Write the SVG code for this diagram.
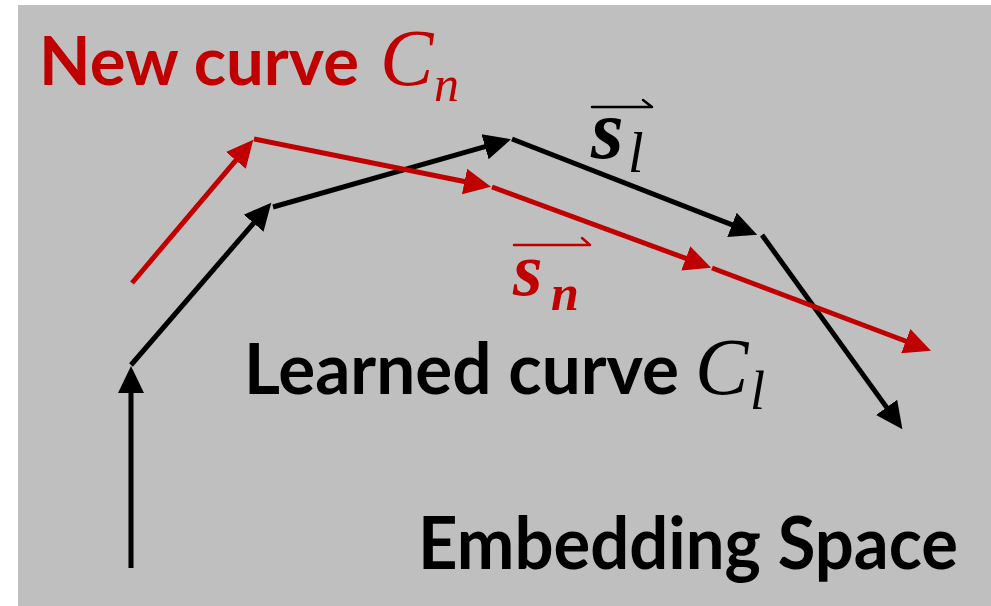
<svg xmlns="http://www.w3.org/2000/svg" width="991" height="606" viewBox="0 0 991 606">
  <style>
    .lbl { font-family: Lato, "Liberation Sans", sans-serif; font-weight: bold; }
    .math { font-family: "Liberation Serif", "DejaVu Serif", serif; font-style: italic; }
    .bm { font-family: "Liberation Serif", "DejaVu Serif", serif; font-style: italic; font-weight: bold; }
    .red { fill: #C00000; }
    .blk { fill: #000000; }
    .lk { stroke: #000000; stroke-width: 5; fill: none; marker-end: url(#ahB); }
    .ln { stroke: #C00000; stroke-width: 5; fill: none; marker-end: url(#ahR); }
    .vec { fill: none; stroke-width: 2.5; stroke-linecap: round; stroke-linejoin: round; }
  </style>
  <defs>
    <marker id="ahB" markerUnits="userSpaceOnUse" markerWidth="30" markerHeight="28" viewBox="0 -14 30 28" refX="1" refY="0" orient="auto">
      <path d="M0,-13 L27,0 L0,13 z" fill="#000000"/>
    </marker>
    <marker id="ahR" markerUnits="userSpaceOnUse" markerWidth="30" markerHeight="28" viewBox="0 -14 30 28" refX="1" refY="0" orient="auto">
      <path d="M0,-13 L27,0 L0,13 z" fill="#C00000"/>
    </marker>
  </defs>

  <rect x="18" y="5" width="973" height="601" fill="#BFBFBF"/>

  <g id="connectors">
    <g id="learned-curve">
      <line class="lk" x1="131" y1="568" x2="131" y2="392"/>
      <line class="lk" x1="131" y1="365" x2="254.3" y2="222.4"/>
      <line class="lk" x1="273" y1="207" x2="486" y2="146.4"/>
      <line class="lk" x1="512" y1="139" x2="732.9" y2="225.2"/>
      <line class="lk" x1="762" y1="235" x2="887.2" y2="408.1"/>
    </g>
    <g id="new-curve">
      <line class="ln" x1="132" y1="283" x2="236.5" y2="159.6"/>
      <line class="ln" x1="254" y1="139" x2="465.5" y2="181.7"/>
      <line class="ln" x1="492" y1="187" x2="686.7" y2="258.7"/>
      <line class="ln" x1="712" y1="268" x2="906.7" y2="341.5"/>
    </g>
  </g>

  <g id="label-new-curve">
    <text class="lbl red" x="39" y="85" font-size="67" textLength="320" lengthAdjust="spacingAndGlyphs">New curve</text>
    <text class="math red" x="380" y="85" font-size="80">C</text>
    <text class="math red" x="434" y="101" font-size="50">n</text>
  </g>

  <g id="label-sl">
    <path class="vec" stroke="#000000" d="M592,107 H652 L643,100"/>
    <text class="bm blk" x="591" y="158" font-size="84">s</text>
    <text class="math blk" x="628" y="172" font-size="56">l</text>
  </g>

  <g id="label-sn">
    <path class="vec" stroke="#C00000" d="M514,245 H590 L582,238"/>
    <text class="bm red" x="513" y="295" font-size="76">s</text>
    <text class="bm red" x="551" y="310" font-size="50">n</text>
  </g>

  <g id="label-learned-curve">
    <text class="lbl blk" x="244" y="394" font-size="71" textLength="435" lengthAdjust="spacingAndGlyphs">Learned curve</text>
    <text class="math blk" x="695" y="394" font-size="80">C</text>
    <text class="math blk" x="750" y="409" font-size="54">l</text>
  </g>

  <g id="label-embedding-space">
    <text class="lbl blk" x="418" y="569" font-size="72" textLength="540" lengthAdjust="spacingAndGlyphs">Embedding Space</text>
  </g>
</svg>
